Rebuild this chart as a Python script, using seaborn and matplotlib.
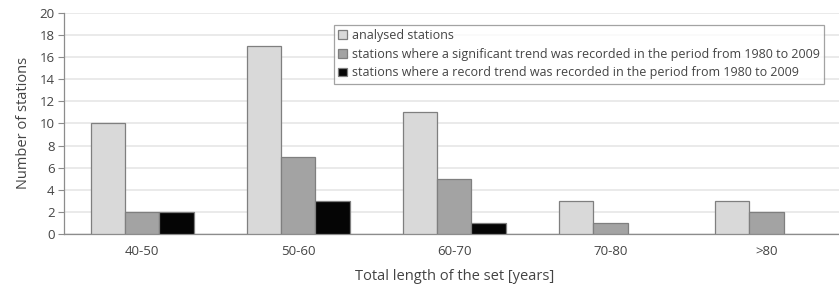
import numpy as np
import pandas as pd
import matplotlib
matplotlib.use("Agg")
import matplotlib.pyplot as plt
import seaborn as sns

# data
categories = ['40-50', '50-60', '60-70', '70-80', '>80']
analysed = [10, 17, 11, 3, 3]
significant = [2, 7, 5, 1, 2]
record = [2, 3, 1, 0, 0]
series_names = ['analysed stations',
                'stations where a significant trend was recorded in the period from 1980 to 2009',
                'stations where a record trend was recorded in the period from 1980 to 2009']
colors = ['#d9d9d9', '#a3a3a3', '#050505']

df = pd.DataFrame({
    'cat': categories * 3,
    'value': analysed + significant + record,
    'series': np.repeat(series_names, len(categories)),
})

sns.set_style("white")
plt.rcParams['font.family'] = ['Open Sans', 'DejaVu Sans']

fig = plt.figure(figsize=(8.39, 2.87), dpi=100)
ax = fig.add_axes([0.0765, 0.185, 0.93, 0.77])

sns.barplot(data=df, x='cat', y='value', hue='series', palette=colors,
            width=0.66, edgecolor='#7f7f7f', linewidth=0.9, ax=ax, zorder=3)

# hide empty bars (no outline at zero)
for cont in ax.containers:
    for p in cont:
        if p.get_height() == 0:
            p.set_visible(False)

ax.set_ylim(0, 20)
ax.set_yticks(range(0, 21, 2))
ax.set_xlim(-0.5, 4.45)
ax.yaxis.grid(True, color='#e6e6e6', linewidth=1.2, zorder=0)
ax.set_axisbelow(True)
for s in ['top', 'right']:
    ax.spines[s].set_visible(False)
for s in ['left', 'bottom']:
    ax.spines[s].set_color('#8c8c8c')
    ax.spines[s].set_linewidth(0.9)

ax.set_xticks([x + 0.5 for x in range(-1, 5)], minor=True)
ax.tick_params(axis='x', which='minor', length=4, color='#8c8c8c', direction='out')
ax.tick_params(axis='x', which='major', length=0, labelsize=9.5, colors='#444444', pad=8)
ax.tick_params(axis='y', length=4, color='#8c8c8c', labelsize=9.5, colors='#444444', pad=3)
ax.tick_params(axis='y', direction='out', left=True)

ax.set_xlabel('Total length of the set [years]', fontsize=10.5, color='#444444', labelpad=8)
ax.set_ylabel('Number of stations', fontsize=10.5, color='#444444', labelpad=6)

leg = ax.legend(loc='upper right', bbox_to_anchor=(0.982, 0.975), fontsize=9.0,
                frameon=True, fancybox=False, handlelength=0.7, handleheight=0.7,
                handletextpad=0.4, borderpad=0.35, labelspacing=0.45)
leg.get_frame().set_edgecolor('#8c8c8c')
leg.get_frame().set_linewidth(0.9)
for t in leg.get_texts():
    t.set_color('#444444')

fig.savefig('out.png', dpi=100)
